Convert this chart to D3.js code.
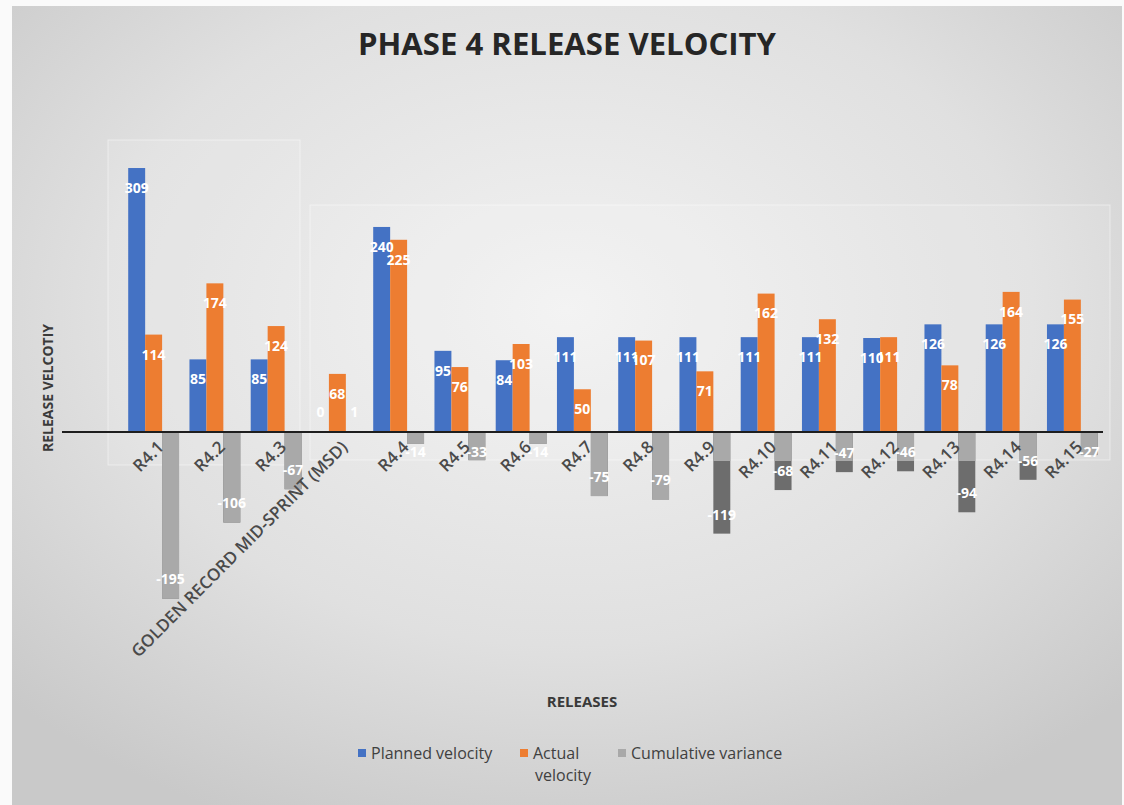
<!DOCTYPE html>
<html>
<head>
<meta charset="utf-8">
<style> body { margin: 0; background: #fff; } svg { display: block; } </style>
<script src="https://d3js.org/d3.v7.min.js"></script>
</head>
<body>
<div id="chart"></div>
<script>

var categories = ["R4.1", "R4.2", "R4.3", "GOLDEN RECORD MID-SPRINT (MSD)", "R4.4", "R4.5", "R4.6", "R4.7",
                  "R4.8", "R4.9", "R4.10", "R4.11", "R4.12", "R4.13", "R4.14", "R4.15"];
var planned = [309, 85, 85, 0, 240, 95, 84, 111, 111, 111, 111, 111, 110, 126, 126, 126];
var actual = [114, 174, 124, 68, 225, 76, 103, 50, 107, 71, 162, 132, 111, 78, 164, 155];
var variance = [-195, -106, -67, 1, -14, -33, -14, -75, -79, -119, -68, -47, -46, -94, -56, -27];
var seriesNames = ["Planned velocity", "Actual velocity", "Cumulative variance"];

var W = 1124, H = 805;
var colors = { planned: "#4472c4", actual: "#ed7d31", variance: "#6d6d6d", varianceLight: "#a9a9a9" };
var font = "'Open Sans', 'Liberation Sans', sans-serif";

var rows = categories.map(function(c, i) {
    return { cat: c, planned: planned[i], actual: actual[i], variance: variance[i] };
});
var keys = ["planned", "actual", "variance"];

var svg = d3.select("#chart").append("svg")
    .attr("width", W)
    .attr("height", H);

// photo-ish background
var defs = svg.append("defs");
var grad = defs.append("radialGradient").attr("id", "bg")
    .attr("cx", "50%").attr("cy", "38%").attr("r", "70%");
grad.append("stop").attr("offset", "0%").attr("stop-color", "#f2f2f2");
grad.append("stop").attr("offset", "60%").attr("stop-color", "#e0e0e0");
grad.append("stop").attr("offset", "100%").attr("stop-color", "#c9c9c9");

svg.append("rect").attr("width", W).attr("height", H).attr("fill", "#fafafa");
svg.append("rect").attr("x", 12).attr("y", 6).attr("width", W - 14).attr("height", H - 6)
    .attr("fill", "url(#bg)");

// glare panels of the photographed screen (variance bars look lighter inside them)
var panels = [
    { x: 100, y: 130, w: 205, h: 480 },
    { x: 305, y: 200, w: 395, h: 310 },
    { x: 700, y: 200, w: 412, h: 261 }
];
var clip = defs.append("clipPath").attr("id", "glare");
panels.forEach(function(p) {
    clip.append("rect").attr("x", p.x).attr("y", p.y).attr("width", p.w).attr("height", p.h);
});
svg.append("g").selectAll("rect")
    .data([{ x: 108, y: 140, w: 192, h: 325 }, { x: 310, y: 205, w: 800, h: 255 }])
    .join("rect")
    .attr("x", d => d.x).attr("y", d => d.y).attr("width", d => d.w).attr("height", d => d.h)
    .attr("fill", "#ffffff").attr("fill-opacity", 0.1)
    .attr("stroke", "#ffffff").attr("stroke-opacity", 0.45);

var x0 = d3.scaleBand().domain(categories).range([123, 1103]).paddingInner(0.17).paddingOuter(0.085);
var x1 = d3.scaleBand().domain(keys).range([0, x0.bandwidth()]);
var y = d3.scaleLinear().domain([-240, 350]).range([637, 133]);

// title
svg.append("text")
    .attr("x", 567).attr("y", 55)
    .attr("text-anchor", "middle")
    .attr("font-family", font).attr("font-weight", 700).attr("font-size", 31)
    .attr("textLength", 418).attr("lengthAdjust", "spacingAndGlyphs")
    .attr("fill", "#262626")
    .text("PHASE 4 RELEASE VELOCITY");

var plot = svg.append("g");

function drawBars(g, key, col) {
    g.selectAll("rect." + key)
        .data(rows)
        .join("rect")
        .attr("class", key)
        .attr("x", d => x0(d.cat) + x1(key))
        .attr("width", x1.bandwidth())
        .attr("y", d => y(Math.max(0, d[key])))
        .attr("height", d => Math.abs(y(d[key]) - y(0)))
        .attr("fill", col);
}

drawBars(plot, "variance", colors.variance);
drawBars(plot.append("g").attr("clip-path", "url(#glare)"), "variance", colors.varianceLight);
drawBars(plot, "planned", colors.planned);
drawBars(plot, "actual", colors.actual);

// baseline
svg.append("line")
    .attr("x1", 62).attr("x2", x0.range()[1])
    .attr("y1", y(0)).attr("y2", y(0))
    .attr("stroke", "#1e1e1e").attr("stroke-width", 2);

// value labels, inside end
keys.forEach(function(key) {
    plot.selectAll("text.l" + key)
        .data(rows)
        .join("text")
        .attr("class", "l" + key)
        .attr("x", d => x0(d.cat) + x1(key) + x1.bandwidth() / 2)
        .attr("y", function(d) {
            var v = d[key];
            if (key === "variance" && v < 0) return Math.max(y(v) - 19, y(0) + 20);
            return Math.min(y(v) + 20, y(0) - 20);
        })
        .attr("dy", "0.35em")
        .attr("text-anchor", "middle")
        .attr("font-family", font).attr("font-weight", 700).attr("font-size", 14)
        .attr("fill", "#ffffff")
        .text(d => d[key]);
});

// category labels
svg.append("g").selectAll("text")
    .data(categories)
    .join("text")
    .attr("transform", d => "translate(" + (x0(d) + x0.bandwidth() / 2 + 7) + "," + (y(0) + 12) + ") rotate(-45)")
    .attr("text-anchor", "end")
    .attr("dy", "0.35em")
    .attr("font-family", font).attr("font-weight", 600).attr("font-size", 17)
    .attr("fill", "#4a4a4a")
    .text(d => d);

// axis titles
svg.append("text")
    .attr("transform", "translate(48,388) rotate(-90)")
    .attr("text-anchor", "middle").attr("dy", "0.35em")
    .attr("font-family", font).attr("font-weight", 700).attr("font-size", 14)
    .attr("fill", "#3a3a3a")
    .text("RELEASE VELCOTIY");

svg.append("text")
    .attr("x", 582).attr("y", 702)
    .attr("text-anchor", "middle").attr("dy", "0.35em")
    .attr("font-family", font).attr("font-weight", 700).attr("font-size", 15)
    .attr("fill", "#3a3a3a")
    .text("RELEASES");

// legend
var legendItems = [
    { name: seriesNames[0], col: colors.planned, x: 358, lines: ["Planned velocity"] },
    { name: seriesNames[1], col: colors.actual, x: 520, lines: ["Actual", "velocity"] },
    { name: seriesNames[2], col: colors.varianceLight, x: 618, lines: ["Cumulative variance"] }
];
var leg = svg.append("g").selectAll("g")
    .data(legendItems)
    .join("g")
    .attr("transform", d => "translate(" + d.x + ",753)");
leg.append("rect").attr("x", 0).attr("y", -4).attr("width", 8).attr("height", 8)
    .attr("fill", d => d.col);
leg.append("text")
    .attr("font-family", font).attr("font-size", 16)
    .attr("fill", "#404040")
    .selectAll("tspan")
    .data(d => d.lines)
    .join("tspan")
    .attr("x", (d, i) => i === 0 ? 13 : 15)
    .attr("dy", (d, i) => i === 0 ? "0.35em" : "1.4em")
    .text(d => d);

</script>
</body>
</html>
